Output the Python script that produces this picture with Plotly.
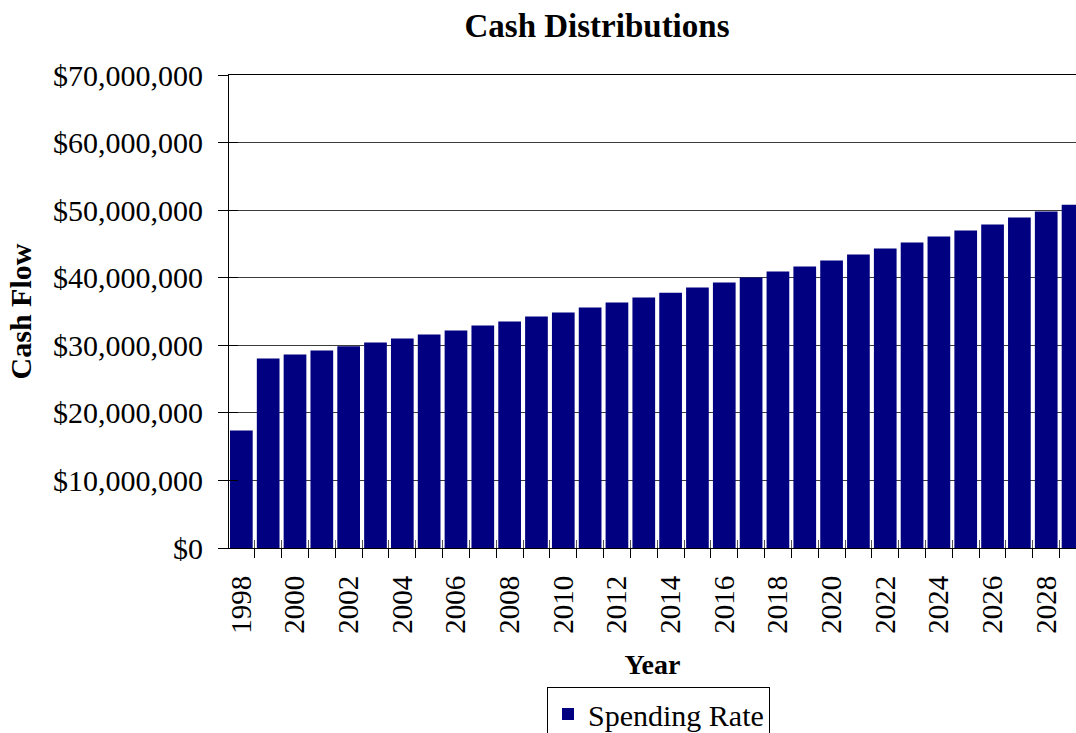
import plotly.graph_objects as go

# Annual cash distributions, 1998-2029 (US dollars)
years = list(range(1998, 2030))
spending_rate = [
    17_400_000, 28_050_000, 28_640_000, 29_230_000, 29_870_000, 30_420_000,
    31_000_000, 31_600_000, 32_190_000, 32_930_000, 33_520_000, 34_260_000,
    34_850_000, 35_590_000, 36_330_000, 37_070_000, 37_780_000, 38_550_000,
    39_290_000, 40_030_000, 40_910_000, 41_650_000, 42_540_000, 43_430_000,
    44_310_000, 45_200_000, 46_090_000, 46_980_000, 47_860_000, 48_900_000,
    49_790_000, 50_790_000,
]
year_labels = [str(y) for y in range(1998, 2029, 2)]
y_ticks = list(range(0, 70_000_001, 10_000_000))

FONT = "Liberation Serif, Times New Roman, serif"
NAVY = "#000080"
x_range = [1997.54, 2029.11]
y_range = [0, 70_000_000]
boundaries = [y + 0.5 for y in years]

fig = go.Figure()
fig.add_trace(go.Bar(
    x=years, y=spending_rate, name="Spending Rate",
    marker=dict(color=NAVY, line=dict(width=0)),
    xaxis="x", yaxis="y",
))
# empty traces so the overlay axes (inner tick halves, year labels) are drawn
for xa, ya in (("x2", "y"), ("x3", "y"), ("x", "y2")):
    fig.add_trace(go.Scatter(x=[None], y=[None], xaxis=xa, yaxis=ya,
                             showlegend=False, hoverinfo="skip"))

fig.update_layout(
    width=1076, height=733,
    margin=dict(l=229, r=0, t=75, b=185, autoexpand=False),
    paper_bgcolor="white", plot_bgcolor="white",
    font=dict(family=FONT, color="black", size=29),
    bargap=0.154,
    title=dict(text="<b>Cash Distributions</b>", font=dict(size=33),
               x=597 / 1076, xref="container", xanchor="center",
               y=1 - 25 / 733, yref="container", yanchor="middle"),
    showlegend=True,
    legend=dict(orientation="h", x=547 / 1076, xref="container",
                xanchor="left", y=1 - 687 / 733, yref="container",
                yanchor="top", bordercolor="black", borderwidth=1,
                font=dict(size=30), bgcolor="white"),
    xaxis=dict(range=x_range, tickmode="array", tickvals=boundaries,
               ticks="outside", ticklen=9, tickcolor="black",
               showticklabels=False, showline=True, linecolor="black",
               linewidth=1, mirror=True, showgrid=False, zeroline=False,
               automargin=False),
    xaxis2=dict(range=x_range, overlaying="x", anchor="y", side="bottom",
                tickmode="array", tickvals=boundaries, ticks="inside",
                ticklen=8, tickcolor="#555", showticklabels=False,
                showline=False, showgrid=False, zeroline=False,
                automargin=False),
    xaxis3=dict(range=x_range, overlaying="x", anchor="y", side="bottom",
                tickmode="array", tickvals=list(range(1998, 2029, 2)),
                ticktext=year_labels, ticks="", tickangle=-90,
                tickfont=dict(size=29), ticklabelstandoff=21,
                title=dict(text="<b>Year</b>", font=dict(size=28), standoff=21),
                showline=False, showgrid=False, zeroline=False,
                automargin=False),
    yaxis=dict(range=y_range, tickmode="array", tickvals=y_ticks,
               tickformat="$,.0f", tickfont=dict(size=30),
               ticks="outside", ticklen=10,
               tickcolor="black", ticklabelstandoff=9,
               showline=True, linecolor="black", linewidth=1,
               showgrid=True, gridcolor="#3c3c3c", gridwidth=1,
               zeroline=False, automargin=False,
               title=dict(text="<b>Cash Flow</b>", font=dict(size=30),
                          standoff=12)),
    yaxis2=dict(range=y_range, overlaying="y", anchor="x", side="left",
                tickmode="array", tickvals=y_ticks, ticks="inside",
                ticklen=9, tickcolor="black", showticklabels=False,
                showline=False, showgrid=False, zeroline=False,
                automargin=False),
)

fig.write_html("out.html")
